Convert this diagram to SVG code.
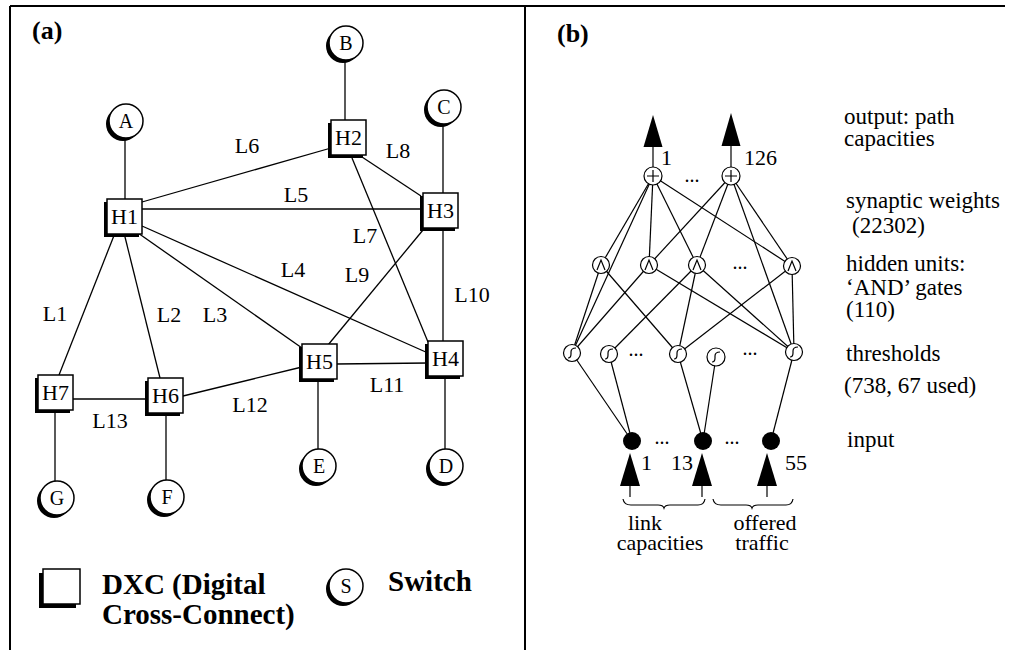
<svg xmlns="http://www.w3.org/2000/svg" width="1028" height="650" viewBox="0 0 1028 650">
<style>
  text { font-family: "Liberation Serif", "Times New Roman", serif; fill: #000; }
  .title { font-size: 26px; font-weight: bold; }
  .hl { font-size: 22px; text-anchor: middle; }
  .ll { font-size: 22px; text-anchor: middle; }
  .cl { font-size: 20px; text-anchor: middle; }
  .leg { font-size: 29px; font-weight: bold; }
  .rt { font-size: 23px; }
  .rtc { font-size: 22px; text-anchor: middle; }
  .nl { font-size: 22px; }
  .dots { font-size: 20px; text-anchor: middle; }
  .frame { stroke: #000; stroke-width: 2; fill: none; }
  .edge { stroke: #000; stroke-width: 1.3; fill: none; }
  .nedge { stroke: #000; stroke-width: 1.2; fill: none; }
  .shadow { fill: #000; }
  .box { fill: #fff; stroke: #000; stroke-width: 1.5; }
  .unit { fill: #fff; stroke: #000; stroke-width: 1.2; }
  .sym { fill: none; stroke: #000; stroke-width: 1.2; }
  .in { fill: #000; }
  .arrow { fill: #000; }
</style>

<g id="frame">
  <line class="frame" x1="10" y1="6" x2="1005" y2="6"/>
  <line class="frame" x1="10" y1="6" x2="10" y2="650"/>
  <line class="frame" x1="525" y1="6" x2="525" y2="650"/>
</g>

<text class="title" x="32" y="39">(a)</text>
<text class="title" x="557" y="42">(b)</text>

<!-- Panel (a) connectors -->
<g id="connectors-a">
  <line class="edge" x1="125" y1="137" x2="125" y2="199"/>
  <line class="edge" x1="345" y1="60" x2="345" y2="120"/>
  <line class="edge" x1="443" y1="124" x2="443" y2="193"/>
  <line class="edge" x1="142" y1="202" x2="331" y2="148"/>
  <line class="edge" x1="142" y1="209" x2="423" y2="209"/>
  <line class="edge" x1="362" y1="157" x2="421" y2="196"/>
  <line class="edge" x1="352" y1="158" x2="428" y2="342"/>
  <line class="edge" x1="443" y1="228" x2="443" y2="341"/>
  <line class="edge" x1="423" y1="230" x2="328" y2="345"/>
  <line class="edge" x1="142" y1="226" x2="428" y2="353"/>
  <line class="edge" x1="138" y1="233" x2="302" y2="348"/>
  <line class="edge" x1="124" y1="233" x2="160" y2="378"/>
  <line class="edge" x1="115" y1="233" x2="59" y2="375"/>
  <line class="edge" x1="73" y1="399" x2="148" y2="399"/>
  <line class="edge" x1="183" y1="396" x2="302" y2="367"/>
  <line class="edge" x1="336" y1="364" x2="428" y2="363"/>
  <line class="edge" x1="318" y1="378" x2="318" y2="449"/>
  <line class="edge" x1="445" y1="375" x2="445" y2="449"/>
  <line class="edge" x1="55" y1="410" x2="55" y2="481"/>
  <line class="edge" x1="166" y1="413" x2="166" y2="480"/>
</g>

<g id="link-labels">
  <text class="ll" x="247" y="153">L6</text>
  <text class="ll" x="398" y="158">L8</text>
  <text class="ll" x="296" y="202">L5</text>
  <text class="ll" x="365" y="243">L7</text>
  <text class="ll" x="293" y="277">L4</text>
  <text class="ll" x="357" y="282">L9</text>
  <text class="ll" x="472" y="302">L10</text>
  <text class="ll" x="55" y="321">L1</text>
  <text class="ll" x="169" y="322">L2</text>
  <text class="ll" x="215" y="322">L3</text>
  <text class="ll" x="387" y="392">L11</text>
  <text class="ll" x="250" y="412">L12</text>
  <text class="ll" x="110" y="428">L13</text>
</g>

<!-- DXC nodes -->
<g id="node-H1"><rect class="shadow" x="104" y="202" width="35" height="35"/><rect class="box" x="107" y="199" width="35" height="35"/><text class="hl" x="124.5" y="224">H1</text></g>
<g id="node-H2"><rect class="shadow" x="328" y="123" width="35" height="35"/><rect class="box" x="331" y="120" width="35" height="35"/><text class="hl" x="348.5" y="145">H2</text></g>
<g id="node-H3"><rect class="shadow" x="420" y="196" width="35" height="35"/><rect class="box" x="423" y="193" width="35" height="35"/><text class="hl" x="440.5" y="218">H3</text></g>
<g id="node-H4"><rect class="shadow" x="425" y="344" width="35" height="35"/><rect class="box" x="428" y="341" width="35" height="35"/><text class="hl" x="445.5" y="366">H4</text></g>
<g id="node-H5"><rect class="shadow" x="299" y="347" width="35" height="35"/><rect class="box" x="302" y="344" width="35" height="35"/><text class="hl" x="319.5" y="369">H5</text></g>
<g id="node-H6"><rect class="shadow" x="145" y="381" width="35" height="35"/><rect class="box" x="148" y="378" width="35" height="35"/><text class="hl" x="165.5" y="403">H6</text></g>
<g id="node-H7"><rect class="shadow" x="35" y="378" width="35" height="35"/><rect class="box" x="38" y="375" width="35" height="35"/><text class="hl" x="55.5" y="400">H7</text></g>

<!-- Switch nodes -->
<g id="node-A"><circle class="shadow" cx="123" cy="124" r="17"/><circle class="box" cx="126" cy="121" r="17"/><text class="cl" x="126" y="128">A</text></g>
<g id="node-B"><circle class="shadow" cx="343" cy="46" r="17"/><circle class="box" cx="346" cy="43" r="17"/><text class="cl" x="346" y="50">B</text></g>
<g id="node-C"><circle class="shadow" cx="441" cy="110" r="17"/><circle class="box" cx="444" cy="107" r="17"/><text class="cl" x="444" y="114">C</text></g>
<g id="node-D"><circle class="shadow" cx="443" cy="469" r="17"/><circle class="box" cx="446" cy="466" r="17"/><text class="cl" x="446" y="473">D</text></g>
<g id="node-E"><circle class="shadow" cx="316" cy="469" r="17"/><circle class="box" cx="319" cy="466" r="17"/><text class="cl" x="319" y="473">E</text></g>
<g id="node-F"><circle class="shadow" cx="164" cy="500" r="17"/><circle class="box" cx="167" cy="497" r="17"/><text class="cl" x="167" y="504">F</text></g>
<g id="node-G"><circle class="shadow" cx="54" cy="501" r="17"/><circle class="box" cx="57" cy="498" r="17"/><text class="cl" x="57" y="505">G</text></g>

<!-- Legend -->
<g id="legend">
  <rect class="shadow" x="39" y="573" width="37" height="35"/>
  <rect class="box" x="43" y="569" width="37" height="35"/>
  <text class="leg" x="102" y="594">DXC (Digital</text>
  <text class="leg" x="102" y="624">Cross-Connect)</text>
  <circle class="shadow" cx="343" cy="589" r="17"/>
  <circle class="box" cx="346" cy="586" r="17"/>
  <text class="cl" x="346" y="593">S</text>
  <text class="leg" x="388" y="591">Switch</text>
</g>

<!-- Panel (b) connectors -->
<g id="connectors-b">
  <line class="nedge" x1="653" y1="176" x2="601" y2="265"/>
  <line class="nedge" x1="653" y1="176" x2="572" y2="353"/>
  <line class="nedge" x1="653" y1="176" x2="649" y2="265"/>
  <line class="nedge" x1="653" y1="176" x2="697" y2="265"/>
  <line class="nedge" x1="653" y1="176" x2="792" y2="266"/>
  <line class="nedge" x1="731" y1="176" x2="649" y2="265"/>
  <line class="nedge" x1="731" y1="176" x2="697" y2="265"/>
  <line class="nedge" x1="731" y1="176" x2="794" y2="352"/>
  <line class="nedge" x1="731" y1="176" x2="792" y2="266"/>
  <line class="nedge" x1="601" y1="265" x2="572" y2="353"/>
  <line class="nedge" x1="601" y1="265" x2="678" y2="354"/>
  <line class="nedge" x1="649" y1="265" x2="572" y2="353"/>
  <line class="nedge" x1="649" y1="265" x2="794" y2="352"/>
  <line class="nedge" x1="697" y1="265" x2="609" y2="354"/>
  <line class="nedge" x1="697" y1="265" x2="678" y2="354"/>
  <line class="nedge" x1="697" y1="265" x2="794" y2="352"/>
  <line class="nedge" x1="792" y1="266" x2="678" y2="354"/>
  <line class="nedge" x1="792" y1="266" x2="794" y2="352"/>
  <line class="nedge" x1="572" y1="353" x2="632" y2="441"/>
  <line class="nedge" x1="609" y1="354" x2="632" y2="441"/>
  <line class="nedge" x1="678" y1="354" x2="703" y2="441"/>
  <line class="nedge" x1="716" y1="357" x2="703" y2="441"/>
  <line class="nedge" x1="794" y1="352" x2="771" y2="441"/>
  <!-- output arrows -->
  <line class="nedge" x1="653" y1="145" x2="653" y2="167"/>
  <line class="nedge" x1="731" y1="143" x2="731" y2="167"/>
  <polygon class="arrow" points="653,115 662.5,147 643.5,147"/>
  <polygon class="arrow" points="731,113 740.5,146 721.5,146"/>
  <!-- input arrows -->
  <line class="nedge" x1="630" y1="484" x2="630" y2="497"/>
  <line class="nedge" x1="702" y1="484" x2="702" y2="497"/>
  <line class="nedge" x1="767" y1="484" x2="767" y2="497"/>
  <polygon class="arrow" points="630,453 640,486 620,486"/>
  <polygon class="arrow" points="702,453 712,486 692,486"/>
  <polygon class="arrow" points="767,453 777,486 757,486"/>
  <!-- braces -->
  <path class="nedge" d="M623,499 Q624,505 631,505 L658,505 Q663,505 664,508 Q665,505 670,505 L698,505 Q704,505 705,499"/>
  <path class="nedge" d="M713,499 Q714,505 721,505 L746,505 Q751,505 752,508 Q753,505 758,505 L786,505 Q792,505 793,499"/>
</g>

<!-- Output units -->
<g id="node-O1"><circle class="unit" cx="653" cy="176" r="9"/><path class="sym" d="M653,170 V182 M647,176 H659"/></g>
<g id="node-O2"><circle class="unit" cx="731" cy="176" r="9"/><path class="sym" d="M731,170 V182 M725,176 H737"/></g>
<!-- AND units -->
<g id="node-A1"><circle class="unit" cx="601" cy="265" r="8.5"/><path class="sym" d="M597,270 L601,260 L605,270"/></g>
<g id="node-A2"><circle class="unit" cx="649" cy="265" r="8.5"/><path class="sym" d="M645,270 L649,260 L653,270"/></g>
<g id="node-A3"><circle class="unit" cx="697" cy="265" r="8.5"/><path class="sym" d="M693,270 L697,260 L701,270"/></g>
<g id="node-A4"><circle class="unit" cx="792" cy="266" r="8.5"/><path class="sym" d="M788,271 L792,261 L796,271"/></g>
<!-- Threshold units -->
<g id="node-T1"><circle class="unit" cx="572" cy="353" r="8.5"/><path class="sym" d="M568,358 Q571,358 571,354 L571,352 Q571,348 576,348"/></g>
<g id="node-T2"><circle class="unit" cx="609" cy="354" r="8.5"/><path class="sym" d="M605,359 Q608,359 608,355 L608,353 Q608,349 613,349"/></g>
<g id="node-T3"><circle class="unit" cx="678" cy="354" r="8.5"/><path class="sym" d="M674,359 Q677,359 677,355 L677,353 Q677,349 682,349"/></g>
<g id="node-T4"><circle class="unit" cx="716" cy="357" r="9"/><path class="sym" d="M712,362 Q715,362 715,358 L715,356 Q715,352 720,352"/></g>
<g id="node-T5"><circle class="unit" cx="794" cy="352" r="8.5"/><path class="sym" d="M790,357 Q793,357 793,353 L793,351 Q793,347 798,347"/></g>
<!-- Input units -->
<g id="node-I1"><circle class="in" cx="632" cy="441" r="9"/></g>
<g id="node-I2"><circle class="in" cx="703" cy="441" r="9"/></g>
<g id="node-I3"><circle class="in" cx="771" cy="441" r="9"/></g>

<g id="net-labels">
  <text class="nl" x="661" y="165">1</text>
  <text class="nl" x="744" y="165">126</text>
  <text class="dots" x="692" y="182">...</text>
  <text class="dots" x="740" y="269">...</text>
  <text class="dots" x="636" y="356">...</text>
  <text class="dots" x="750" y="355">...</text>
  <text class="dots" x="662" y="444">...</text>
  <text class="dots" x="732" y="444">...</text>
  <text class="nl" x="641" y="470">1</text>
  <text class="nl" x="671" y="470">13</text>
  <text class="nl" x="785" y="470">55</text>
  <text class="rtc" x="645" y="530">link</text>
  <text class="rtc" x="660" y="550">capacities</text>
  <text class="rtc" x="765" y="530">offered</text>
  <text class="rtc" x="762" y="550">traffic</text>
</g>

<g id="layer-labels">
  <text class="rt" x="844" y="124">output: path</text>
  <text class="rt" x="844" y="146">capacities</text>
  <text class="rt" x="846" y="208">synaptic weights</text>
  <text class="rt" x="852" y="233">(22302)</text>
  <text class="rt" x="846" y="271">hidden units:</text>
  <text class="rt" x="846" y="295">‘AND’ gates</text>
  <text class="rt" x="846" y="317">(110)</text>
  <text class="rt" x="846" y="361">thresholds</text>
  <text class="rt" x="844" y="393">(738, 67 used)</text>
  <text class="rt" x="847" y="447">input</text>
</g>
</svg>
